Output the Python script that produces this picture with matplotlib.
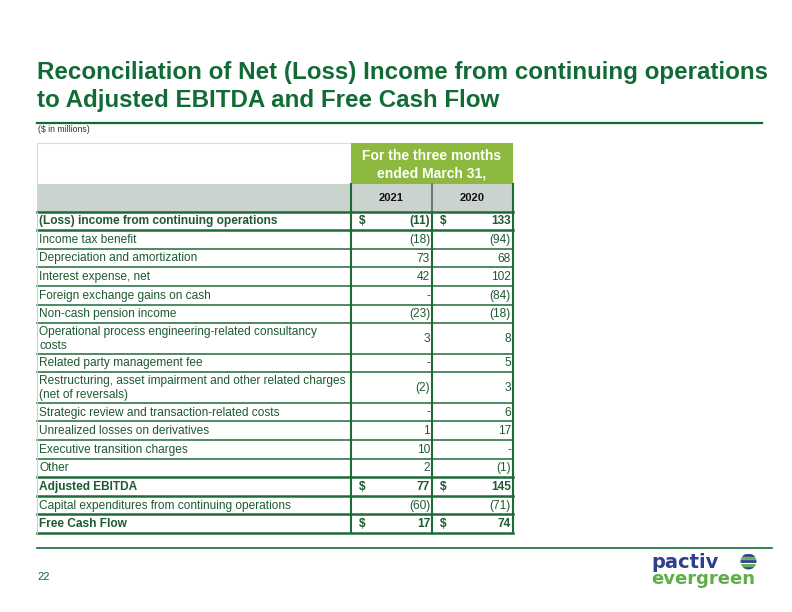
import matplotlib
matplotlib.use('Agg')
import matplotlib.pyplot as plt
from matplotlib.patches import Rectangle, Circle

#данные таблицы
labels = ['(Loss) income from continuing operations',
          'Income tax benefit',
          'Depreciation and amortization',
          'Interest expense, net',
          'Foreign exchange gains on cash',
          'Non-cash pension income',
          'Operational process engineering-related consultancy\ncosts',
          'Related party management fee',
          'Restructuring, asset impairment and other related charges\n(net of reversals)',
          'Strategic review and transaction-related costs',
          'Unrealized losses on derivatives',
          'Executive transition charges',
          'Other',
          'Adjusted EBITDA',
          'Capital expenditures from continuing operations',
          'Free Cash Flow']
v2021 = [-11, -18, 73, 42, None, -23, 3, None, -2, None, 1, 10, 2, 77, -60, 17]
v2020 = [133, -94, 68, 102, -84, -18, 8, 5, 3, 6, 17, None, -1, 145, -71, 74]
bold_rows = [0, 13, 15]
years = ['2021', '2020']
header = 'For the three months\nended March 31,'

dark = '#116b35'     #тёмно-зелёный заголовок
txt = '#1d5a30'      #текст таблицы
line_c = '#1f6b38'   #линии таблицы
lime = '#8dba3e'
gray = '#cbd3ce'
fs = 8.6

def fmt(v):
    if v is None:
        return '-'
    if v < 0:
        return '(%d)' % (-v)
    return '%d' % v

plt.rcParams['font.family'] = ['Liberation Sans', 'DejaVu Sans']

fig = plt.figure(figsize=(7.92, 6.12), dpi=100)
ax = fig.add_axes([0, 0, 1, 1])
ax.set_xlim(0, 792)
ax.set_ylim(612, 0)
ax.axis('off')

#заголовок
ax.text(37, 72, 'Reconciliation of Net (Loss) Income from continuing operations',
        fontsize=17.4, fontweight='bold', color=dark, va='center', ha='left')
ax.text(37, 101, 'to Adjusted EBITDA and Free Cash Flow',
        fontsize=17.4, fontweight='bold', color=dark, va='center', ha='left')
ax.plot([37, 762], [122.5, 122.5], color=dark, lw=1.6)
ax.text(38, 130, '($ in millions)', fontsize=6.3, color='#333333', va='center')

#границы колонок
x0, x1, x2, x3 = 37, 350.5, 431.5, 512.5

#шапка
ax.add_patch(Rectangle((x0, 143), x1 - x0, 41, facecolor='white', edgecolor='#d6dcd8', lw=0.8))
ax.add_patch(Rectangle((x1, 143), x3 - x1, 41, facecolor=lime, edgecolor='none'))
ax.text((x1 + x3) / 2, 164.5, header, fontsize=10, fontweight='bold', color='white',
        ha='center', va='center', linespacing=1.3)
ax.add_patch(Rectangle((x0, 184), x3 - x0, 27.5, facecolor=gray, edgecolor='none'))
ax.text((x1 + x2) / 2, 198, years[0], fontsize=8, fontweight='bold', color='#111111', ha='center', va='center')
ax.text((x2 + x3) / 2, 198, years[1], fontsize=8, fontweight='bold', color='#111111', ha='center', va='center')
ax.plot([x1, x1], [184, 211.5], color=line_c, lw=1.5)
ax.plot([x2, x2], [184, 211.5], color='#777777', lw=1.5)
ax.plot([x3, x3], [184, 211.5], color=line_c, lw=1.5)

#строки
y = 211.5
ys = [y]
for i, lab in enumerate(labels):
    h = 30.5 if '\n' in lab else 18.6
    yc = y + h / 2
    b = i in bold_rows
    w = 'bold' if b else 'normal'
    ax.text(39, yc + 0.5, lab, fontsize=fs, fontweight=w, color=txt, va='center', ha='left',
            linespacing=1.3)
    ax.text(x2 - 1.5, yc + 0.5, fmt(v2021[i]), fontsize=fs, fontweight=w, color=txt, va='center', ha='right')
    ax.text(x3 - 1.5, yc + 0.5, fmt(v2020[i]), fontsize=fs, fontweight=w, color=txt, va='center', ha='right')
    if b:
        ax.text(x1 + 8, yc + 0.5, '$', fontsize=fs, fontweight='bold', color=txt, va='center')
        ax.text(x2 + 8, yc + 0.5, '$', fontsize=fs, fontweight='bold', color=txt, va='center')
    y += h
    ys.append(y)

for k, yy in enumerate(ys):
    thick = k in (0, 1, 13, 14, 15, 16)
    ax.plot([x0, x3], [yy, yy], color=line_c, lw=1.8 if thick else 1.1)
for xx in (x1, x2, x3):
    ax.plot([xx, xx], [ys[0], ys[-1]], color=line_c, lw=1.5)
ax.plot([x0, x0], [ys[0], ys[-1]], color='#c8d2cb', lw=0.8)

#нижняя линия и номер страницы
ax.plot([37, 772], [548, 548], color=dark, lw=1.2)
ax.text(37, 577, '22', fontsize=8, color=dark, va='center')

#логотип
ax.text(651, 562, 'pactiv', fontsize=14, fontweight='bold', color='#2f3f8f', va='center', ha='left',
        family='DejaVu Sans')
ax.text(651, 579, 'evergreen', fontsize=13, fontweight='bold', color='#5fae48', va='center', ha='left',
        family='DejaVu Sans')
gl = Circle((748.5, 561.5), 8, facecolor='white', edgecolor='none')
ax.add_patch(gl)
for j, sy in enumerate([555, 558.2, 561.4, 564.6, 567.8]):
    c = '#2f3f8f' if j % 2 == 0 else '#5fae48'
    ln, = ax.plot([739, 758], [sy, sy], color=c, lw=2.0, solid_capstyle='butt')
    ln.set_clip_path(gl)

fig.savefig('out.png', dpi=100)
